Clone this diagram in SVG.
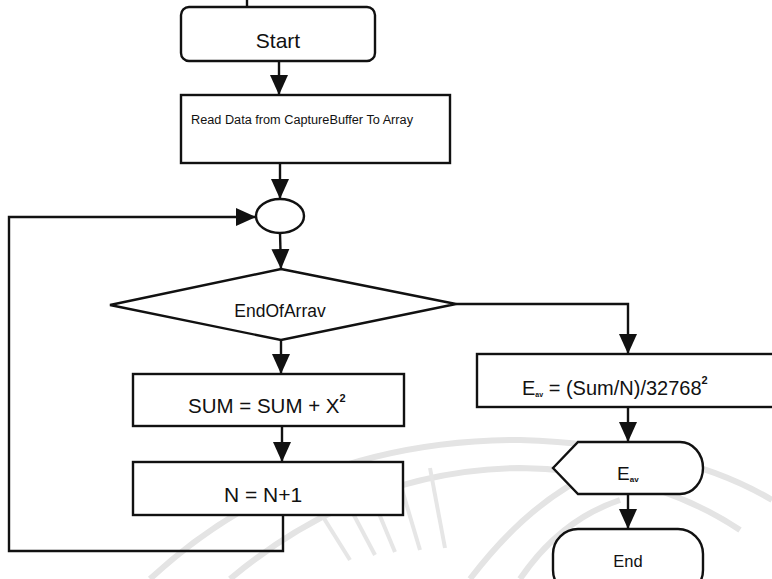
<svg xmlns="http://www.w3.org/2000/svg" width="772" height="579" viewBox="0 0 772 579">
  <style>
    .shape { fill: #ffffff; stroke: #111111; stroke-width: 2.4; }
    .wire { fill: none; stroke: #111111; stroke-width: 2.4; }
    .label { font-family: "Liberation Sans", Arial, sans-serif; fill: #111111; }
    .mark { fill: none; stroke: #e4e4e4; stroke-width: 6; }
  </style>
  <defs>
    <marker id="arrow" markerUnits="userSpaceOnUse" markerWidth="20" markerHeight="20" viewBox="0 0 20 20" refX="20" refY="10" orient="auto">
      <path d="M0,1 L20,10 L0,19 Z" fill="#111111"/>
    </marker>
  </defs>

  <rect width="772" height="579" fill="#ffffff"/>

  <!-- faint seal in the background -->
  <g id="seal">
    <path class="mark" d="M150,579 Q300,440 520,440 Q680,445 772,500"/>
    <path class="mark" d="M230,579 Q360,470 520,468 Q650,470 740,530"/>
    <path class="mark" d="M470,579 Q530,500 600,470"/>
    <path class="mark" d="M520,579 Q560,520 620,500"/>
    <g stroke="#e6e6e6" stroke-width="4">
      <line x1="300" y1="480" x2="350" y2="560"/>
      <line x1="330" y1="470" x2="375" y2="555"/>
      <line x1="360" y1="468" x2="395" y2="552"/>
      <line x1="395" y1="466" x2="420" y2="550"/>
      <line x1="430" y1="468" x2="445" y2="548"/>
    </g>
  </g>

  <!-- connectors -->
  <g id="connectors">
    <line class="wire" x1="247" y1="0" x2="247" y2="7"/>
    <line class="wire" x1="279" y1="61" x2="279" y2="95" marker-end="url(#arrow)"/>
    <line class="wire" x1="280" y1="163" x2="280" y2="199" marker-end="url(#arrow)"/>
    <line class="wire" x1="280" y1="233" x2="281" y2="269" marker-end="url(#arrow)"/>
    <line class="wire" x1="281" y1="340" x2="281" y2="374" marker-end="url(#arrow)"/>
    <line class="wire" x1="282" y1="426" x2="282" y2="462" marker-end="url(#arrow)"/>
    <polyline class="wire" points="283,515 283,551 9,551 9,217 256,217" marker-end="url(#arrow)"/>
    <polyline class="wire" points="456,304 628,304 628,354" marker-end="url(#arrow)"/>
    <line class="wire" x1="628" y1="407" x2="628" y2="442" marker-end="url(#arrow)"/>
    <line class="wire" x1="628" y1="494" x2="628" y2="529" marker-end="url(#arrow)"/>
  </g>

  <g id="start">
    <rect class="shape" x="181" y="7" width="194" height="54" rx="8"/>
    <text class="label" x="278" y="48" font-size="21" text-anchor="middle">Start</text>
  </g>

  <g id="read-data">
    <rect class="shape" x="181" y="95" width="269" height="68"/>
    <text class="label" x="191" y="124" font-size="12" textLength="222" lengthAdjust="spacingAndGlyphs">Read Data from CaptureBuffer To Array</text>
  </g>

  <g id="junction">
    <ellipse class="shape" cx="280" cy="216" rx="24" ry="17"/>
  </g>

  <g id="end-of-array">
    <polygon class="shape" points="281,269 456,304 281,340 110,305"/>
    <text class="label" x="280" y="317" font-size="17.5" text-anchor="middle">EndOfArrav</text>
  </g>

  <g id="sum">
    <rect class="shape" x="133" y="374" width="271" height="52"/>
    <text class="label" x="188" y="413" font-size="20.5">SUM = SUM + X<tspan font-size="11" font-weight="bold" dy="-11">2</tspan></text>
  </g>

  <g id="count">
    <rect class="shape" x="133" y="462" width="270" height="53"/>
    <text class="label" x="263" y="502" font-size="21" text-anchor="middle">N = N+1</text>
  </g>

  <g id="energy">
    <rect class="shape" x="477" y="354" width="310" height="53"/>
    <text class="label" x="522" y="395" font-size="20">E<tspan font-size="7" font-weight="bold" dy="2">av</tspan><tspan dy="-2"> = (Sum/N)/32768</tspan><tspan font-size="11" font-weight="bold" dy="-11">2</tspan></text>
  </g>

  <g id="display">
    <path class="shape" d="M553,468 L578,442 L680,442 A23,26 0 0 1 680,494 L578,494 Z"/>
    <text class="label" x="617" y="480" font-size="19">E<tspan font-size="8" font-weight="bold" dy="2">av</tspan></text>
  </g>

  <g id="end">
    <rect class="shape" x="553" y="529" width="150" height="66" rx="25"/>
    <text class="label" x="628" y="567" font-size="16.5" text-anchor="middle">End</text>
  </g>
</svg>
